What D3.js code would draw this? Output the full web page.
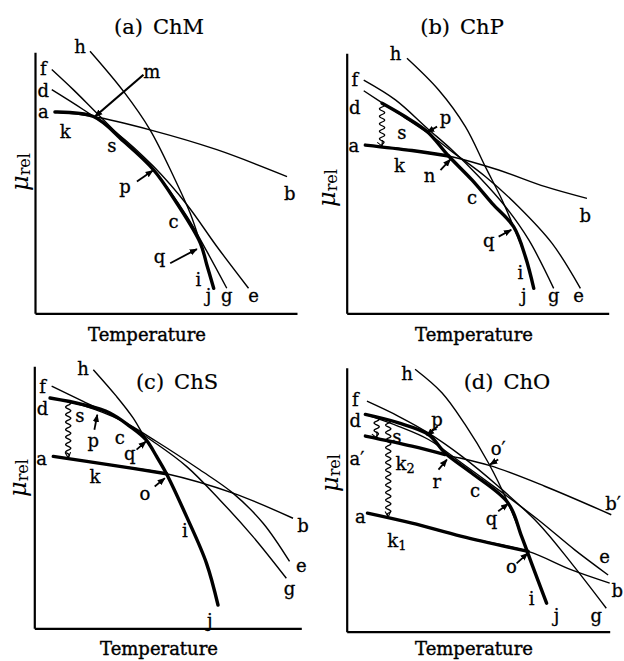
<!DOCTYPE html>
<html>
<head>
<meta charset="utf-8">
<script src="https://cdn.jsdelivr.net/npm/d3@7"></script>
<style>
  body { margin: 0; background: #fff; }
  svg { display: block; }
  text { font-family: "DejaVu Serif", serif; fill: #000; }
</style>
</head>
<body>
<svg width="624" height="661"></svg>
<script>
// Schematic curves, [temperature, mu_rel] in relative units (0-100 on each axis)
const titleTags = ["(a)", "(b)", "(c)", "(d)"];
const titleNames = ["ChM", "ChP", "ChS", "ChO"];

// (a) ChM
const thinA = [
  [[7.6,77.1],[22.3,75.4],[43.9,70.3],[69.4,62.7],[96.2,52.4]],                               // a-b
  [[6.4,85.7],[18.5,78.0],[31.2,69.1],[45.2,56.3],[58.0,41.6],[69.4,25.6],[81.5,9.6]],        // d-e
  [[6.4,93.4],[14.6,85.7],[22.3,78.0],[33.8,66.5],[45.2,55.0],[58.0,37.1],[65.6,23.7],[73.2,9.6]], // f-g
  [[21.0,100.4],[33.8,85.0],[43.9,70.3],[52.9,52.4],[59.2,38.4],[63.1,26.9],[65.6,18.5],[68.2,9.6]] // h-i-j
];
const thickA = [
  [[7.6,77.1],[22.3,75.4],[33.8,65.9],[45.2,55.0],[54.1,42.2],[63.1,26.9],[65.6,18.5],[68.2,9.6]]
];
const labelsA = [
  ["h",17.2,102.3],["f",3.2,94.0],["d",3.2,85.6],["a",3.2,77.4],["k",11.5,69.7],["s",29.3,64.6],
  ["m",44.6,92.7],["p",34.4,48.6],["c",52.9,35.2],["q",47.5,22.0],["i",62.4,13.0],["j",66.2,7.0],
  ["g",73.2,7.0],["e",83.4,7.0],["b",97.2,46.0]
];
const arrowsA = [[41.4,91.4,22.9,75.4],[38.9,50.5,45.0,54.7],[51.6,19.2,61.8,24.6]];
const wavesA = [];

// (b) ChP
const thinB = [
  [[7.1,64.7],[24.9,62.8],[38.9,60.5],[58.0,55.1],[75.8,48.7],[91.7,44.2]],
  [[6.5,85.6],[18.6,77.6],[30.7,69.5],[40.2,62.2],[52.9,52.6],[65.6,41.0],[78.4,26.9],[89.2,9.6]],
  [[6.5,89.7],[18.6,82.1],[30.7,71.2],[40.2,62.8],[50.4,52.6],[60.6,41.0],[69.5,28.2],[79.0,9.6]],
  [[23.0,98.1],[35.1,85.9],[45.3,71.8],[52.9,56.4],[59.3,43.6],[63.7,33.3],[68.2,21.8],[71.4,9.6]]
];
const thickB = [
  [[7.1,64.7],[24.9,62.6],[38.9,60.5]],
  [[13.5,80.8],[22.4,75.6],[30.7,69.9],[38.9,60.5],[47.8,51.3],[55.5,42.3],[63.7,33.3],[68.2,21.8],[71.4,9.6]]
];
const labelsB = [
  ["h",18.6,100],["f",3.1,90],["d",3.1,79.5],["a",2.7,64.7],["k",20.1,57.1],["s",21.1,69.9],
  ["p",37.7,75.4],["n",31.6,53.2],["c",47.8,44.9],["b",91.1,37.8],["q",54.2,28.2],["i",66.3,16.0],
  ["j",67.6,7.0],["g",79.0,7.0],["e",88.5,7.0]
];
const arrowsB = [[34.5,71.8,30.7,69.6],[35.8,55.1,39.6,59.2],[58.0,29.5,62.8,32.1]];
const wavesB = [[13.5,80.8,64.3]];

// (c) ChS
const thinC = [
  [[7.1,65.6],[28.3,62.4],[49.5,59.0],[74.4,51.6],[96.9,42.0]],
  [[6.5,87.9],[18.3,85.0],[32.0,79.6],[45.8,71.3],[62.0,60.5],[74.4,51.6],[85.7,40.1],[95.6,25.5]],
  [[6.5,92.4],[18.3,86.6],[32.0,79.6],[44.5,71.3],[57.0,61.8],[69.5,49.0],[81.9,35.0],[94.4,19.1]],
  [[22.1,98.7],[30.8,88.5],[37.0,80.3],[41.8,72.0],[45.8,65.6],[49.5,59.0],[57.0,42.7],[64.5,24.8],[68.8,8.9]]
];
const thickC = [
  [[7.1,65.6],[28.3,62.4],[49.5,59.0]],
  [[5.9,87.9],[18.3,85.4],[28.3,82.2],[35.8,77.1],[41.8,72.0],[45.8,65.6],[49.5,59.0],[57.0,42.7],[64.5,24.8],[68.8,8.9]]
];
const labelsC = [
  ["h",18.3,99.4],["f",3.1,92.6],["d",3.1,84.0],["a",2.7,65.0],["k",22.7,58.0],["s",17.1,81.5],
  ["p",22.1,72.0],["c",32.0,73.2],["q",35.8,66.9],["o",41.4,51.6],["i",56.4,37.6],["j",65.7,3.2],
  ["g",95.6,15.3],["e",100.0,24.2],["b",100.6,39.5]
];
const arrowsC = [[22.5,75.8,23.6,81.5],[38.3,68.2,41.8,71.3],[45.1,54.1,48.9,57.3]];
const wavesC = [[12.7,86.6,65.2]];

// (d) ChO
const thinD = [
  [[7.9,44.9],[24.8,41.1],[43.7,36.1],[69.0,30.4],[85.5,23.4],[100.0,18.4]],
  [[7.1,74.1],[24.8,70.3],[37.4,67.1],[54.5,62.9],[75.3,55.1],[100.6,44.3]],
  [[7.1,82.3],[19.7,77.8],[31.1,72.8],[43.7,63.9],[57.6,53.8],[72.8,42.4],[86.7,31.0],[99.4,21.5]],
  [[7.7,87.3],[19.7,81.6],[31.0,75.3],[43.7,66.5],[57.6,55.1],[72.8,41.1],[85.5,25.9],[98.7,8.9]],
  [[26.0,99.4],[36.2,90.5],[45.0,78.5],[53.9,63.9],[61.4,48.7],[66.5,36.1],[70.3,25.9],[76.0,10.8]]
];
const thickD = [
  [[7.1,74.1],[24.8,70.3],[37.4,67.1]],
  [[7.9,44.9],[24.8,41.1],[43.7,36.1],[69.0,30.4]],
  [[7.1,82.3],[19.7,79.1],[31.1,74.7],[37.4,67.7],[47.5,60.1],[61.4,48.7],[66.5,36.1],[70.3,25.9],[76.0,10.8]]
];
const labelsD = [
  ["h",22.9,98.1],["f",3.3,88.3],["d",3.3,80.3],["a′",3.9,65.8],["k_2",22.2,63.9],["s",19.1,74.3],
  ["p",34.3,80.4],["r",34.3,57.0],["c",48.8,53.8],["o′",57.6,69.6],["q",55.1,43.0],["b′",101.3,48.7],
  ["a",5.2,43.7],["k_1",19.1,34.8],["o",62.6,24.7],["e",98.1,28.5],["b",102.9,15.8],["i",70.3,12.7],
  ["j",79.8,6.3],["g",94.9,6.3]
];
const arrowsD = [[34.6,77.8,30.5,74.3],[57.6,65.2,54.5,63.3],[34.9,61.4,38.1,65.2],[57.6,45.6,61.4,48.5],[64.6,25.9,68.8,29.7]];
const wavesD = [[11.4,81.2,73.6],[15.8,80.4,43.6]];

// page layout of the four panels
const panels = [
  { left: 35,    bottom: 313.3, w: 262, h: 261, thin: thinA, thick: thickA, labels: labelsA, arrows: arrowsA, waves: wavesA,
    title: [159, 34], temp: [147, 341], mu: [20, 172] },
  { left: 346.7, bottom: 313.3, w: 262, h: 260, thin: thinB, thick: thickB, labels: labelsB, arrows: arrowsB, waves: wavesB,
    title: [462, 34], temp: [474, 341], mu: [327, 188] },
  { left: 34.3,  bottom: 628.3, w: 267, h: 262, thin: thinC, thick: thickC, labels: labelsC, arrows: arrowsC, waves: wavesC,
    title: [177, 389], temp: [159, 655], mu: [18, 478] },
  { left: 346.7, bottom: 631.7, w: 263, h: 264, thin: thinD, thick: thickD, labels: labelsD, arrows: arrowsD, waves: wavesD,
    title: [507, 389], temp: [474, 655], mu: [330, 473] }
];

const svg = d3.select("svg");

// arrow heads
const defs = svg.append("defs");
defs.append("marker")
    .attr("id", "head")
    .attr("viewBox", "0 0 10 10")
    .attr("refX", 9).attr("refY", 5)
    .attr("markerWidth", 8).attr("markerHeight", 8)
    .attr("markerUnits", "userSpaceOnUse")
    .attr("orient", "auto")
    .append("path")
    .attr("d", "M0,1 L10,5 L0,9 Z");
defs.append("marker")
    .attr("id", "vee")
    .attr("viewBox", "0 0 10 10")
    .attr("refX", 9).attr("refY", 5)
    .attr("markerWidth", 7).attr("markerHeight", 7)
    .attr("markerUnits", "userSpaceOnUse")
    .attr("orient", "auto")
    .append("path")
    .attr("d", "M1,1 L9,5 L1,9")
    .attr("fill", "none")
    .attr("stroke", "#000")
    .attr("stroke-width", 1.6);

panels.forEach((p, idx) => {
    const x = d3.scaleLinear().domain([0, 100]).range([p.left, p.left + p.w]);
    const y = d3.scaleLinear().domain([0, 100]).range([p.bottom, p.bottom - p.h]);
    const g = svg.append("g");

    // Axes without ticks
    g.append("g")
        .attr("transform", `translate(0,${p.bottom})`)
        .call(d3.axisBottom(x).tickValues([]).tickSizeOuter(0))
        .select(".domain").attr("stroke-width", 2.2);
    g.append("g")
        .attr("transform", `translate(${p.left},0)`)
        .call(d3.axisLeft(y).tickValues([]).tickSizeOuter(0))
        .select(".domain").attr("stroke-width", 2.2);

    const line = d3.line()
        .x(d => x(d[0]))
        .y(d => y(d[1]))
        .curve(d3.curveCatmullRom.alpha(0.5));

    // Thin curves
    g.selectAll(".thin")
        .data(p.thin)
        .enter()
        .append("path")
        .attr("class", "thin")
        .attr("d", line)
        .attr("fill", "none")
        .attr("stroke", "#000")
        .attr("stroke-width", 1.4);

    // Thick curves (actual path)
    g.selectAll(".thick")
        .data(p.thick)
        .enter()
        .append("path")
        .attr("class", "thick")
        .attr("d", line)
        .attr("fill", "none")
        .attr("stroke", "#000")
        .attr("stroke-width", 3.4)
        .attr("stroke-linecap", "round");

    // Leader arrows
    g.selectAll(".arrow")
        .data(p.arrows)
        .enter()
        .append("line")
        .attr("class", "arrow")
        .attr("x1", d => x(d[0])).attr("y1", d => y(d[1]))
        .attr("x2", d => x(d[2])).attr("y2", d => y(d[3]))
        .attr("stroke", "#000")
        .attr("stroke-width", (d, i) => (idx === 0 && i === 0) ? 2.2 : 1.8)
        .attr("marker-end", "url(#head)");

    // Wavy arrows
    g.selectAll(".wave")
        .data(p.waves)
        .enter()
        .append("path")
        .attr("class", "wave")
        .attr("d", d => {
            const x0 = x(d[0]), y0 = y(d[1]), y1 = y(d[2]);
            const len = y1 - y0;
            const pts = d3.range(0, len + 0.5, 0.5).map(t => {
                const taper = Math.min(1, (len - t) / 5, t / 2);
                return [x0 + 2.6 * taper * Math.sin(t / 7.5 * 2 * Math.PI), y0 + t];
            });
            return d3.line()(pts);
        })
        .attr("fill", "none")
        .attr("stroke", "#000")
        .attr("stroke-width", 1.3)
        .attr("marker-end", "url(#vee)");

    // Curve letters
    const lab = g.selectAll(".lab")
        .data(p.labels)
        .enter()
        .append("text")
        .attr("class", "lab")
        .attr("x", d => x(d[1]))
        .attr("y", d => y(d[2]))
        .attr("text-anchor", "middle")
        .attr("dominant-baseline", "central")
        .attr("font-size", 18)
        .attr("stroke", "#000").attr("stroke-width", 0.3);
    lab.each(function(d) {
        const parts = d[0].split("_");
        const t = d3.select(this);
        t.append("tspan").text(parts[0]);
        if (parts[1]) t.append("tspan").attr("font-size", 13).attr("dy", 5).text(parts[1]);
    });

    // Panel title
    const tt = g.append("text")
        .attr("x", p.title[0]).attr("y", p.title[1])
        .attr("text-anchor", "middle")
        .attr("font-size", 21)
        .attr("stroke", "#000").attr("stroke-width", 0.2);
    tt.append("tspan").text(titleTags[idx]);
    tt.append("tspan").attr("dx", 10).text(titleNames[idx]);

    // Axis titles
    g.append("text")
        .attr("x", p.temp[0]).attr("y", p.temp[1])
        .attr("text-anchor", "middle")
        .attr("font-size", 18)
        .attr("stroke", "#000").attr("stroke-width", 0.4)
        .text("Temperature");

    const mu = g.append("text")
        .attr("transform", `translate(${p.mu[0]},${p.mu[1]}) rotate(-90)`)
        .attr("text-anchor", "middle")
        .attr("dominant-baseline", "central");
    mu.append("tspan").attr("font-size", 24).attr("font-style", "italic").text("μ");
    mu.append("tspan").attr("font-size", 16).attr("dy", 4).text("rel");
});
</script>
</body>
</html>
